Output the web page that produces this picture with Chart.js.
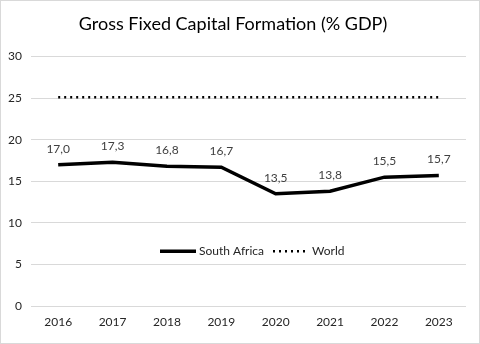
<!DOCTYPE html>
<html>
<head>
<meta charset="utf-8">
<script src="https://cdn.jsdelivr.net/npm/chart.js@4.4.1/dist/chart.umd.min.js"></script>
<style>
  html, body { margin: 0; padding: 0; background: #ffffff; }
  #wrap { width: 480px; height: 344px; position: relative; }
</style>
</head>
<body>
<div id="wrap"><canvas id="chart" width="480" height="344"></canvas></div>
<script>
// ---------------- data ----------------
const years = ["2016", "2017", "2018", "2019", "2020", "2021", "2022", "2023"];
const southAfrica = [17.0, 17.3, 16.8, 16.7, 13.5, 13.8, 15.5, 15.7];
const world = [25.1, 25.1, 25.1, 25.1, 25.1, 25.1, 25.1, 25.1];
const yTicks = [0, 5, 10, 15, 20, 25, 30];

const FONT = "Lato, 'Open Sans', sans-serif";

// value labels above the South Africa line, with a comma decimal
const valueLabels = {
    id: "valueLabels",
    afterDatasetsDraw(chart) {
        const ctx = chart.ctx;
        const meta = chart.getDatasetMeta(0);
        ctx.save();
        ctx.font = "12px " + FONT;
        ctx.fillStyle = "#404040";
        ctx.textAlign = "center";
        ctx.textBaseline = "middle";
        meta.data.forEach((pt, i) => {
            const txt = southAfrica[i].toFixed(1).replace(".", ",");
            ctx.fillText(txt, pt.x, pt.y - 16);
        });
        ctx.restore();
    }
};

// legend drawn inside the plot area, plus the outer border
const innerLegend = {
    id: "innerLegend",
    afterDraw(chart) {
        const ctx = chart.ctx;
        const area = chart.chartArea;
        const y = area.top + (area.bottom - area.top) * 0.78;
        const ds = chart.data.datasets;
        ctx.save();
        ctx.font = "12px " + FONT;
        ctx.textBaseline = "middle";
        ctx.fillStyle = "#262626";

        let x = 160;
        ctx.strokeStyle = ds[0].borderColor;
        ctx.lineWidth = ds[0].borderWidth;
        ctx.beginPath();
        ctx.moveTo(x, y);
        ctx.lineTo(x + 36, y);
        ctx.stroke();
        ctx.fillText(ds[0].label, x + 39, y);

        x = 273;
        ctx.strokeStyle = ds[1].borderColor;
        ctx.lineWidth = ds[1].borderWidth;
        ctx.setLineDash(ds[1].borderDash);
        ctx.beginPath();
        ctx.moveTo(x, y);
        ctx.lineTo(x + 34, y);
        ctx.stroke();
        ctx.setLineDash([]);
        ctx.fillText(ds[1].label, x + 39, y);

        ctx.strokeStyle = "#d9d9d9";
        ctx.lineWidth = 1;
        ctx.strokeRect(0.5, 0.5, chart.width - 1, chart.height - 1);
        ctx.restore();
    }
};

new Chart(document.getElementById("chart").getContext("2d"), {
    type: "line",
    data: {
        labels: years,
        datasets: [
            {
                label: "South Africa",
                data: southAfrica,
                borderColor: "#000000",
                borderWidth: 3.5,
                pointRadius: 0,
                tension: 0,
                fill: false
            },
            {
                label: "World",
                data: world,
                borderColor: "#000000",
                borderWidth: 2.5,
                borderDash: [2, 4],
                borderCapStyle: "butt",
                pointRadius: 0,
                tension: 0,
                fill: false
            }
        ]
    },
    options: {
        responsive: false,
        animation: false,
        layout: { padding: { top: 0, right: 14, bottom: 10, left: 0 } },
        plugins: {
            legend: { display: false },
            tooltip: { enabled: false },
            title: {
                display: true,
                text: "Gross Fixed Capital Formation (% GDP)",
                color: "#000000",
                font: { family: FONT, size: 18, weight: "normal" },
                padding: { top: 13, bottom: 22 }
            }
        },
        scales: {
            x: {
                offset: true,
                grid: { display: false, drawTicks: false },
                border: { display: false },
                ticks: {
                    color: "#262626",
                    font: { family: FONT, size: 12 },
                    padding: 9,
                    maxRotation: 0
                },
                afterFit(scale) { scale.height = 28; }
            },
            y: {
                min: 0,
                max: 30,
                afterBuildTicks(scale) {
                    scale.ticks = yTicks.map(v => ({ value: v }));
                },
                grid: { color: "#d9d9d9", drawTicks: false },
                border: { display: false },
                ticks: {
                    color: "#262626",
                    font: { family: FONT, size: 12 },
                    padding: 9
                },
                afterFit(scale) { scale.width = 31; }
            }
        }
    },
    plugins: [valueLabels, innerLegend]
});
</script>
</body>
</html>
